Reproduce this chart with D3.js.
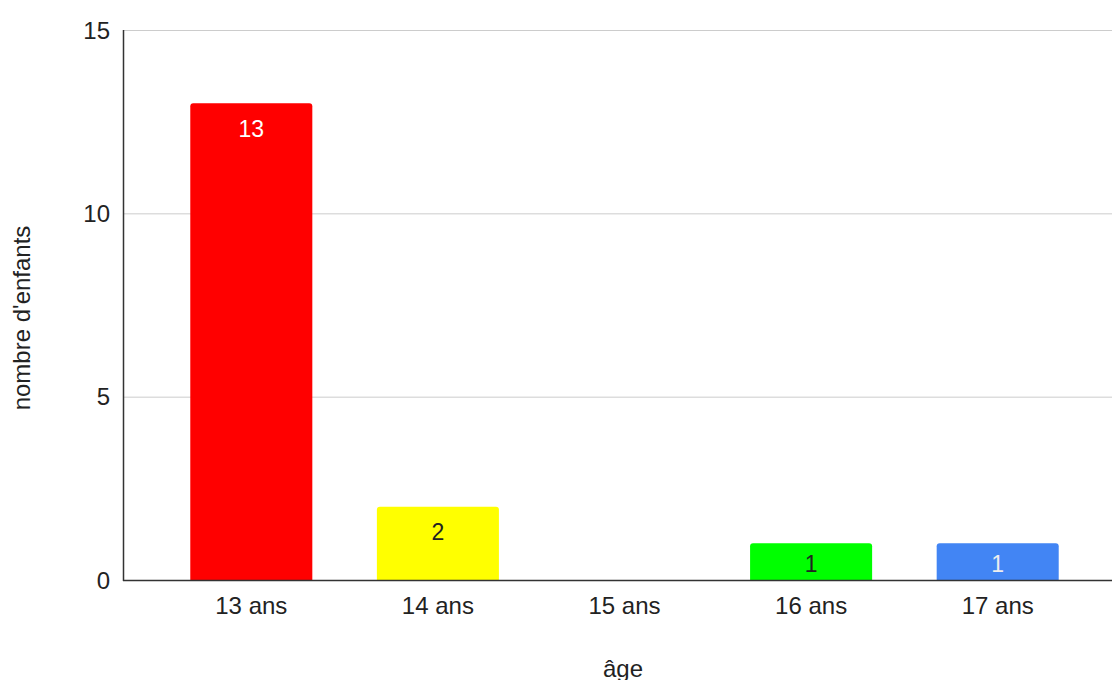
<!DOCTYPE html>
<html>
<head>
<meta charset="utf-8">
<script src="https://cdn.jsdelivr.net/npm/d3@7"></script>
<style>
  body { margin: 0; background: #fff; }
  text { font-family: Arial, "Liberation Sans", sans-serif; }
</style>
</head>
<body>
<div id="chart"></div>
<script>
var ages = ['13 ans', '14 ans', '15 ans', '16 ans', '17 ans'];
var counts = [13, 2, 0, 1, 1];
var barColors = ['#ff0000', '#ffff00', '#ff9900', '#00ff00', '#4285f4'];
var labelColors = ['#ffffff', '#222222', '#222222', '#222222', '#eeeeee'];
var yTicks = [0, 5, 10, 15];

var width = 1112, height = 680;
var plotLeft = 123, plotTop = 30, plotBottom = 580;

var svg = d3.select('#chart').append('svg')
    .attr('width', width).attr('height', height);

var x = d3.scaleBand().domain(ages)
    .range([158, 1091])
    .paddingInner(0.346).paddingOuter(0.173);

var y = d3.scaleLinear().domain([0, 15]).range([plotBottom, plotTop]);

// gridlines
svg.append('g').selectAll('line').data(yTicks.filter(function(t) { return t > 0; })).enter()
   .append('line')
   .attr('x1', plotLeft).attr('x2', width)
   .attr('y1', function(d) { return y(d) + 0.5; })
   .attr('y2', function(d) { return y(d) + 0.5; })
   .attr('stroke', '#cccccc').attr('stroke-width', 1);

// y tick labels
svg.append('g').selectAll('text').data(yTicks).enter()
   .append('text')
   .attr('x', 110).attr('y', function(d) { return y(d); })
   .attr('dy', '0.36em')
   .attr('text-anchor', 'end')
   .attr('font-size', 24)
   .attr('fill', '#222')
   .text(function(d) { return d; });

// bars, top corners rounded
function barPath(x0, w, yTop, yBot, r) {
    r = Math.min(r, (yBot - yTop) / 2);
    return 'M' + x0 + ',' + yBot +
           'V' + (yTop + r) +
           'Q' + x0 + ',' + yTop + ' ' + (x0 + r) + ',' + yTop +
           'H' + (x0 + w - r) +
           'Q' + (x0 + w) + ',' + yTop + ' ' + (x0 + w) + ',' + (yTop + r) +
           'V' + yBot + 'Z';
}

var bars = svg.append('g').selectAll('g').data(ages).enter()
   .append('g');

bars.filter(function(d, i) { return counts[i] > 0; })
   .append('path')
   .attr('d', function(d) {
       var i = ages.indexOf(d);
       return barPath(x(d), x.bandwidth(), y(counts[i]), y(0), 3);
   })
   .attr('fill', function(d) { return barColors[ages.indexOf(d)]; });

bars.filter(function(d, i) { return counts[i] > 0; })
   .append('text')
   .attr('x', function(d) { return x(d) + x.bandwidth() / 2; })
   .attr('y', function(d) {
       var i = ages.indexOf(d);
       var t = y(counts[i]), b = y(0);
       return Math.min(t + 25, (t + b) / 2 + 2);
   })
   .attr('dy', '0.36em')
   .attr('text-anchor', 'middle')
   .attr('font-family', 'Roboto, Arial, sans-serif')
   .attr('font-size', 23)
   .attr('fill', function(d) { return labelColors[ages.indexOf(d)]; })
   .text(function(d) { return counts[ages.indexOf(d)]; });

// axis lines
svg.append('line')
   .attr('x1', plotLeft + 0.5).attr('x2', plotLeft + 0.5)
   .attr('y1', plotTop).attr('y2', plotBottom + 1)
   .attr('stroke', '#333').attr('stroke-width', 1.5);
svg.append('line')
   .attr('x1', plotLeft).attr('x2', width)
   .attr('y1', plotBottom + 0.5).attr('y2', plotBottom + 0.5)
   .attr('stroke', '#333').attr('stroke-width', 1.5);

// x labels
var xAxis = svg.append('g')
   .attr('transform', 'translate(0,' + plotBottom + ')')
   .call(d3.axisBottom(x).tickSize(0).tickPadding(34));
xAxis.select('.domain').remove();
xAxis.selectAll('text')
   .attr('font-size', 24)
   .attr('font-family', 'Arial, "Liberation Sans", sans-serif')
   .attr('fill', '#222')
   .attr('dy', '0');

// axis titles
svg.append('text')
   .attr('x', 623).attr('y', 677)
   .attr('text-anchor', 'middle')
   .attr('font-size', 24)
   .attr('fill', '#222')
   .text('âge');

svg.append('text')
   .attr('transform', 'translate(30,318) rotate(-90)')
   .attr('text-anchor', 'middle')
   .attr('font-size', 24)
   .attr('fill', '#222')
   .text("nombre d'enfants");
</script>
</body>
</html>
